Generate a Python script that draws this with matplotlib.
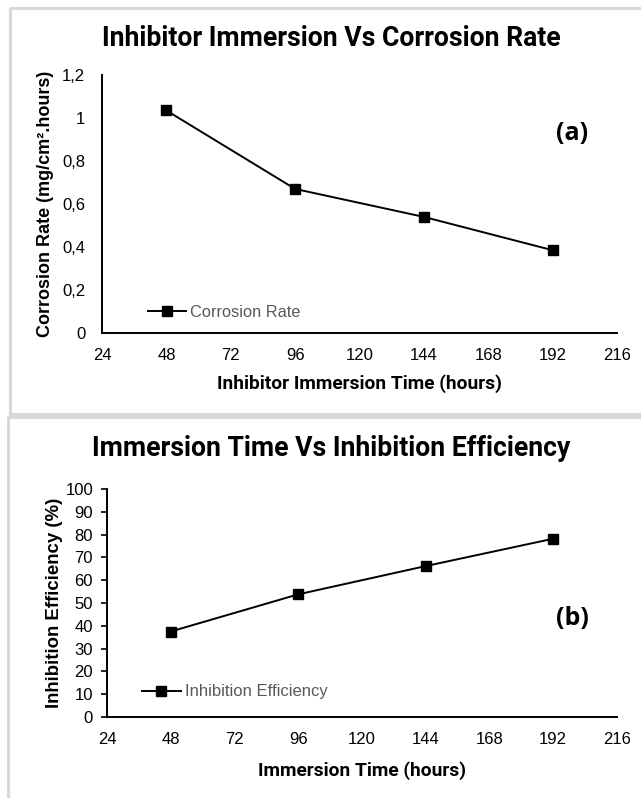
import matplotlib
matplotlib.use("Agg")
import matplotlib.pyplot as plt
from matplotlib.lines import Line2D

# data
hours = [48, 96, 144, 192]
corrosion_rate = [1.035, 0.67, 0.54, 0.385]
inhibition_eff = [37.5, 53.8, 66.2, 78.2]

x_ticks = [24, 48, 72, 96, 120, 144, 168, 192, 216]
cr_ticks = [0, 0.2, 0.4, 0.6, 0.8, 1.0, 1.2]
cr_tick_labels = ["0", "0,2", "0,4", "0,6", "0,8", "1", "1,2"]
ie_ticks = list(range(0, 101, 10))

title_font = "Roboto"
plt.rcParams["font.family"] = ["Liberation Sans", "DejaVu Sans"]

W, H = 641, 798
fig = plt.figure(figsize=(W / 100, H / 100), dpi=100)


def fx(px):
    return px / W


def fy(py):
    return 1 - py / H


# light grey panel frames
grey = "#d9d9d9"
for xs, ys in [([fx(10), fx(10), 1.0], [fy(414), fy(8), fy(8)]),
               ([fx(10), 1.0], [fy(414), fy(414)]),
               ([fx(8), fx(8), 1.0], [0.0, fy(417), fy(417)])]:
    fig.add_artist(Line2D(xs, ys, color=grey, lw=2.2))

# ---------- (a) corrosion rate ----------
ax1 = fig.add_axes([fx(102), fy(333), fx(617 - 102), (333 - 75) / H])
ax1.plot(hours, corrosion_rate, color="black", lw=1.4, marker="s",
         markersize=7, label="Corrosion Rate")
ax1.set_xlim(24, 216)
ax1.set_ylim(0, 1.2)
ax1.set_xticks(x_ticks)
ax1.set_yticks(cr_ticks)
ax1.set_yticklabels(cr_tick_labels)
ax1.tick_params(axis="x", length=0, pad=11, labelsize=12)
ax1.tick_params(axis="y", length=0, pad=12, labelsize=12)
ax1.set_xlabel("Inhibitor Immersion Time (hours)", fontsize=13.8,
               fontweight="bold", family=title_font, labelpad=8)
ax1.set_ylabel("Corrosion Rate (mg/cm².hours)", fontsize=13,
               fontweight="bold", labelpad=6)
ax1.text(0.912, 0.775, "(a)", transform=ax1.transAxes, fontsize=18,
         fontweight="bold", family="Open Sans", ha="center", va="center")
leg1 = ax1.legend(loc="center left", bbox_to_anchor=(0.089, 0.081),
                  frameon=False, borderpad=0, borderaxespad=0,
                  handlelength=2.3, handletextpad=0.25, fontsize=11.8)
for t in leg1.get_texts():
    t.set_color("#595959")

# ---------- (b) inhibition efficiency ----------
ax2 = fig.add_axes([fx(107), fy(717), fx(617 - 107), (717 - 489) / H])
ax2.plot(hours, inhibition_eff, color="black", lw=1.4, marker="s",
         markersize=7, label="Inhibition Efficiency")
ax2.set_xlim(24, 216)
ax2.set_ylim(0, 100)
ax2.set_xticks(x_ticks)
ax2.set_yticks(ie_ticks)
ax2.tick_params(axis="x", length=0, pad=11, labelsize=12)
ax2.tick_params(axis="y", length=4, width=1.2, pad=6, labelsize=12)
ax2.set_xlabel("Immersion Time (hours)", fontsize=13.8,
               fontweight="bold", family=title_font, labelpad=10)
ax2.set_ylabel("Inhibition Efficiency (%)", fontsize=13.4,
               fontweight="bold", labelpad=2)
ax2.text(0.912, 0.434, "(b)", transform=ax2.transAxes, fontsize=18,
         fontweight="bold", family="Open Sans", ha="center", va="center")
leg2 = ax2.legend(loc="center left", bbox_to_anchor=(0.069, 0.11),
                  frameon=False, borderpad=0, borderaxespad=0,
                  handlelength=2.3, handletextpad=0.25, fontsize=12)
for t in leg2.get_texts():
    t.set_color("#595959")

for ax in (ax1, ax2):
    for side in ("top", "right"):
        ax.spines[side].set_visible(False)
    for side in ("left", "bottom"):
        ax.spines[side].set_linewidth(1.4)

fig.text(fx(331), fy(38), "Inhibitor Immersion Vs Corrosion Rate",
         ha="center", va="center", fontsize=19.2, fontweight="bold",
         family=title_font)
fig.text(fx(331), fy(448), "Immersion Time Vs Inhibition Efficiency",
         ha="center", va="center", fontsize=19.2, fontweight="bold",
         family=title_font)

fig.savefig("out.png", dpi=100)
